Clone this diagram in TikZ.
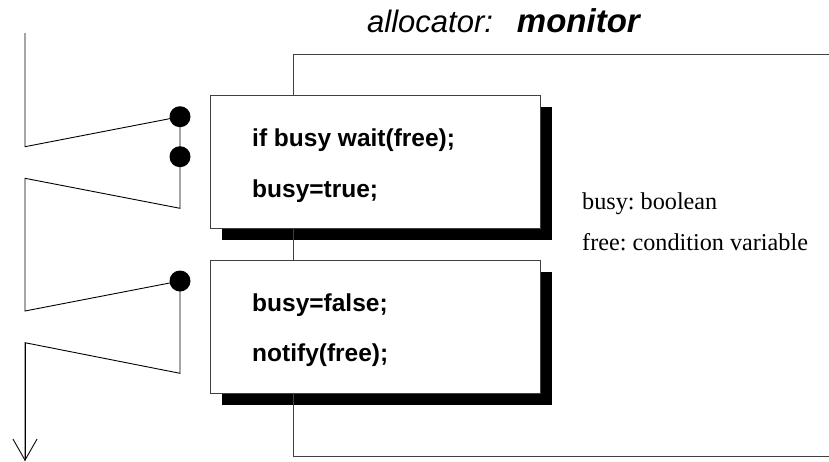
\documentclass[tikz,border=0pt]{standalone}
\usepackage{fontspec}
\setmainfont{Liberation Serif}
\setsansfont{Liberation Sans}
\usepackage{tikz}
\usepackage{xcolor}
\usetikzlibrary{positioning,shadows,arrows.meta}
\frenchspacing

\begin{document}
\begin{tikzpicture}
[
x=1pt, y=-1pt,
box-a/.style={rectangle, draw=black!75, line width=0.8pt, fill=white, minimum width=330pt, minimum height=133pt, inner sep=0pt,
  drop shadow={shadow xshift=11pt, shadow yshift=-11pt, fill=black, opacity=1}},
dot-a/.style={circle, fill=black, minimum size=21pt, inner sep=0pt},
code-a/.style={anchor=base west, inner sep=0pt, font=\sffamily\bfseries\fontsize{24.5}{28}\selectfont},
text-a/.style={anchor=base west, inner sep=0pt, font=\rmfamily\fontsize{24.2}{28}\selectfont},
line-a/.style={line width=0.9pt, black},
frame-a/.style={line width=0.8pt, black!75}
]
\useasboundingbox (0,0) rectangle (829,461);
\node (title)    [anchor=base west, inner sep=0pt, font=\sffamily\fontsize{31}{34}\selectfont] at (367,32)
  {\itshape allocator:\hspace{24pt}\bfseries\fontsize{33}{36}\selectfont monitor};
\coordinate (mon-tl) at (293.3,54);
\coordinate (mon-tr) at (829,54);
\coordinate (mon-bl) at (293.3,456);
\coordinate (mon-br) at (829,456);
\node (box-1)    [box-a] at (375.7,162)   {};
\node (box-2)    [box-a] at (375.7,327)   {};
\node (code-1a)  [code-a] at (252,146.7)  {if busy wait(free);};
\node (code-1b)  [code-a] at (252,197)    {busy=true;};
\node (code-2a)  [code-a] at (252,311.7)  {busy=false;};
\node (code-2b)  [code-a] at (252,361.7)  {notify(free);};
\node (var-1)    [text-a] at (582,209)    {busy: boolean};
\node (var-2)    [text-a] at (582,250)    {free: condition variable};
\draw [frame-a] (mon-tr) -- (mon-tl) -- (mon-tl |- box-1.north);
\draw [frame-a] (mon-tl |- box-1.south) -- (mon-tl |- box-2.north);
\draw [frame-a] (mon-tl |- box-2.south) -- (mon-bl) -- (mon-br);
\node (dot-1)    [dot-a] at (180,116.7)   {};
\node (dot-2)    [dot-a] at (180,156.7)   {};
\node (dot-3)    [dot-a] at (180,281)     {};
\coordinate (p-0) at (25,33);
\coordinate (p-1) at (25,146.7);
\coordinate (p-2) at (180,208.3);
\coordinate (p-3) at (25,178.3);
\coordinate (p-4) at (25,311);
\coordinate (p-5) at (180,373.3);
\coordinate (p-6) at (25,342.7);
\coordinate (p-7) at (25,461);
\draw [line-a] (p-0) -- (p-1) -- (dot-1.center);
\draw [line-a] (dot-1.center) -- (dot-2.center) -- (p-2) -- (p-3) -- (p-4) -- (dot-3.center);
\draw [line-a] (dot-3.center) -- (p-5) -- (p-6) -- (p-7);
\draw [line-a, -{Straight Barb[length=21pt, width=24pt, line width=0.9pt]}] (p-6) -- (p-7);
\end{tikzpicture}
\end{document}
